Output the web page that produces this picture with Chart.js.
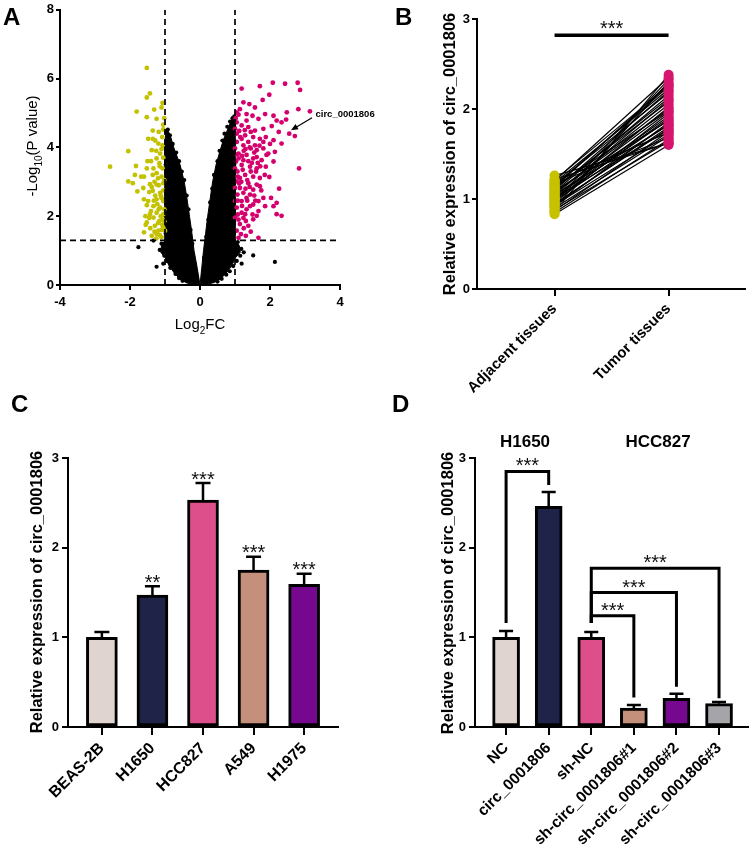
<!DOCTYPE html>
<html>
<head>
<meta charset="utf-8">
<script src="https://cdn.jsdelivr.net/npm/chart.js@4.4.1/dist/chart.umd.min.js"></script>
<style>
html,body{margin:0;padding:0;background:#fff;}
body{width:750px;height:854px;position:relative;overflow:hidden;font-family:"Liberation Sans",Arial,sans-serif;}
canvas{position:absolute;}
.panel{position:absolute;font-weight:bold;font-size:24px;line-height:24px;color:#000;}
.grp{position:absolute;font-weight:bold;font-size:17px;line-height:17px;color:#000;transform:translateX(-50%);white-space:nowrap;}
</style>
</head>
<body>
<canvas id="cA" width="375" height="340" style="left:0;top:0"></canvas>
<canvas id="cB" width="375" height="420" style="left:375px;top:0"></canvas>
<canvas id="cC" width="375" height="434" style="left:0;top:420px"></canvas>
<canvas id="cD" width="375" height="434" style="left:375px;top:420px"></canvas>
<div class="panel" style="left:3px;top:5px">A</div>
<div class="panel" style="left:395px;top:5px">B</div>
<div class="panel" style="left:11px;top:392px">C</div>
<div class="panel" style="left:392px;top:392px">D</div>
<div class="grp" style="left:525px;top:433px">H1650</div>
<div class="grp" style="left:658px;top:433px">HCC827</div>
<script>
// ================= DATA =================
// ---- Panel A: volcano plot (Log2FC, -Log10 P) ----
const fcCut = 1;
const pCut = 1.3;
const downRegulated = [[-1.52,6.31],[-1.43,5.57],[-1.52,5.45],[-1.07,5.29],[-1.31,5.10],[-1.81,5.04],[-1.10,5.16],[-1.52,4.88],[-1.24,4.83],[-1.05,4.66],[-1.35,4.49],[-1.05,4.52],[-1.48,4.25],[-1.35,4.25],[-1.19,4.11],[-1.38,3.92],[-2.05,3.89],[-1.14,3.82],[-1.24,3.68],[-1.05,3.70],[-1.83,3.46],[-2.57,3.44],[-1.52,3.39],[-1.33,3.39],[-1.86,3.20],[-1.60,3.15],[-1.24,3.25],[-1.10,3.15],[-2.05,3.01],[-1.92,2.96],[-1.43,2.93],[-1.24,2.92],[-1.05,2.96],[-1.62,2.82],[-1.35,2.74],[-1.14,2.68],[-1.79,2.72],[-1.24,2.49],[-1.48,2.44],[-1.05,2.44],[-1.60,2.49],[-1.33,2.29],[-1.14,2.25],[-1.52,2.32],[-1.24,2.10],[-1.43,2.06],[-1.05,2.06],[-1.33,1.96],[-1.52,1.82],[-1.16,1.86],[-1.29,1.72],[-1.05,1.67],[-1.60,1.53],[-1.24,1.48],[-1.10,1.39],[-1.38,1.43],[-1.19,1.58],[-1.00,1.58],[-1.07,1.91],[-1.10,2.53],[-1.07,3.39],[-1.16,3.54],[-1.07,4.06],[-1.02,2.20],[-1.12,2.00],[-1.20,1.80],[-1.08,1.75],[-1.28,2.60],[-1.18,2.90],[-1.02,3.05],[-1.30,3.00],[-1.15,3.45],[-1.25,3.90],[-1.40,3.60],[-1.45,2.70],[-1.40,2.15],[-1.56,2.00],[-1.30,1.55],[-1.15,1.45],[-1.02,1.85],[-1.22,2.35],[-1.12,2.60],[-1.35,3.20],[-1.50,3.60],[-1.68,3.15],[-1.08,4.30],[-1.55,1.75],[-1.45,1.95],[-1.02,4.85],[-1.18,4.45],[-1.28,4.20],[-1.10,3.95],[-1.20,3.10],[-1.05,2.75],[-1.32,2.45],[-1.18,2.20],[-1.10,1.60],[-1.42,1.65],[-1.25,1.35],[-1.38,2.85]];
const upRegulated = [[1.71,5.78],[2.08,5.88],[2.43,5.85],[2.79,5.88],[2.86,5.67],[1.19,5.71],[1.98,5.53],[3.14,5.05],[2.81,5.11],[2.48,5.02],[1.79,5.38],[1.24,5.31],[1.41,5.26],[1.57,5.16],[1.05,5.02],[1.14,5.11],[1.33,4.97],[1.50,4.92],[1.67,4.83],[1.86,4.97],[2.10,4.92],[2.33,4.73],[2.19,4.78],[2.46,4.81],[2.55,4.40],[2.71,4.33],[1.05,4.73],[1.19,4.64],[1.38,4.59],[1.57,4.49],[1.81,4.54],[2.05,4.62],[1.05,4.40],[1.29,4.35],[1.52,4.30],[1.71,4.25],[1.88,4.30],[2.10,4.21],[2.33,4.11],[1.05,4.16],[1.24,4.06],[1.45,3.97],[1.62,3.92],[1.81,3.97],[1.95,3.82],[2.14,3.87],[1.10,3.82],[1.33,3.78],[1.52,3.68],[1.76,3.63],[1.03,3.59],[1.19,3.49],[1.43,3.44],[1.62,3.39],[1.88,3.44],[2.10,3.59],[2.83,3.39],[1.07,3.30],[1.29,3.20],[1.52,3.15],[1.71,3.11],[1.98,3.14],[1.05,3.01],[1.38,2.96],[1.62,2.92],[1.14,2.82],[1.52,2.77],[1.71,2.87],[2.26,2.80],[1.07,2.63],[1.33,2.53],[1.81,2.53],[1.19,2.44],[1.67,2.44],[2.03,2.53],[1.52,2.34],[2.19,2.39],[1.86,2.29],[2.10,2.29],[1.05,2.25],[1.33,2.20],[1.67,2.15],[1.29,2.06],[1.62,2.01],[2.19,2.06],[2.33,2.01],[1.31,1.86],[1.52,1.91],[1.14,1.77],[1.38,1.72],[1.05,1.58],[1.17,1.48],[1.31,1.43],[1.67,1.37],[1.10,1.37],[1.00,3.97],[1.10,3.68],[1.24,3.63],[1.00,3.39],[1.14,3.11],[1.00,2.82],[1.24,2.68],[1.43,2.63],[1.00,2.44],[1.43,2.29],[1.00,1.96],[1.19,2.10],[1.38,4.16],[1.57,4.06],[1.19,4.25],[1.33,4.78],[1.00,4.54],[1.81,4.16],[1.90,3.78],[1.22,3.35],[1.35,3.05],[1.48,3.55],[1.12,4.48],[1.25,3.90],[1.60,3.30],[1.42,2.85],[1.08,2.05],[1.24,1.95],[1.55,2.60],[1.75,2.75],[1.12,2.95],[1.45,4.45],[1.70,4.05],[2.00,4.10],[1.65,3.55],[2.25,4.45],[1.02,4.85],[1.10,4.95],[1.28,4.50],[1.15,4.30],[1.42,4.00],[1.30,3.95],[1.08,3.15],[1.18,3.00],[1.30,2.80],[1.08,2.45],[1.20,2.30],[1.35,2.45],[1.10,1.90],[1.25,1.65],[1.45,1.55],[1.50,2.05],[1.58,2.45],[1.62,3.72],[1.72,3.45],[1.85,3.20],[1.45,3.30],[1.55,3.85],[1.20,3.75],[1.38,3.60],[1.05,3.80]];
const notSignificant = [[-0.15,0.6],[-0.22,1.2],[-0.27,1.6],[-0.33,2.2],[-0.38,2.6],[-0.45,3.05],[-0.52,3.3],[-0.6,3.6],[-0.68,3.85],[-0.78,4.1],[-0.86,4.35],[-0.92,4.52],[-0.97,4.45],[-0.98,4.0],[-0.98,3.5],[-0.98,3.0],[-0.98,2.5],[-0.98,2.0],[-0.98,1.5],[-1.1,1.2],[-1.15,1.02],[-1.02,0.85],[-0.95,0.7],[-0.85,0.5],[-0.7,0.32],[-0.6,0.2],[-0.5,0.12],[-0.4,0.22],[-0.3,0.3],[-0.82,3.95],[-0.75,3.75],[-0.9,4.15],
[0.12,0.8],[0.18,1.4],[0.24,1.9],[0.29,2.4],[0.35,2.8],[0.4,3.2],[0.5,3.6],[0.56,3.9],[0.64,4.2],[0.7,4.4],[0.78,4.6],[0.86,4.75],[0.93,4.85],[0.98,4.9],[0.98,4.6],[0.98,4.0],[0.98,3.5],[0.98,3.0],[0.98,2.5],[0.98,2.0],[0.98,1.6],[1.08,1.25],[1.18,1.05],[1.25,0.95],[1.15,0.85],[1.05,0.7],[0.95,0.55],[0.85,0.4],[0.75,0.3],[0.62,0.18],[0.5,0.1],[0.35,0.25],
[-1.76,1.1],[-1.24,0.53],[1.52,0.86],[2.14,0.67],[1.19,0.62],[1.07,1.1],[-1.05,0.62],[-1.33,1.29]];
// outline of the dense non-significant clouds
const nsCloudLeft = [[0,0],[-0.08,0.5],[-0.17,1.0],[-0.23,1.5],[-0.3,2.0],[-0.37,2.5],[-0.45,3.0],[-0.57,3.5],[-0.66,3.75],[-0.75,4.0],[-0.85,4.35],[-0.92,4.5],[-0.97,4.45],[-1.0,4.2],[-1.0,1.3],[-1.1,1.15],[-1.12,0.95],[-1.0,0.8],[-0.88,0.55],[-0.72,0.33],[-0.55,0.15],[-0.38,0.06],[-0.2,0.02],[0,0]];
const nsCloudRight = [[0,0],[0.05,0.5],[0.1,1.0],[0.16,1.5],[0.22,2.0],[0.29,2.5],[0.36,3.0],[0.46,3.5],[0.6,4.0],[0.68,4.25],[0.78,4.5],[0.88,4.75],[0.95,4.87],[1.0,4.87],[1.0,1.3],[1.12,1.15],[1.15,0.95],[1.02,0.8],[0.9,0.55],[0.75,0.35],[0.58,0.17],[0.4,0.07],[0.2,0.02],[0,0]];
const labelGene = 'circ_0001806';
const labelTextAt = [3.3, 4.96];
const labelArrowFrom = [3.2, 4.86];
const labelArrowTo = [2.6, 4.5];

// ---- Panel B: paired tissues ----
const tissueLabels = ['Adjacent tissues', 'Tumor tissues'];
const adjacentExpr = [0.83,0.85,0.86,0.87,0.88,0.90,0.91,0.92,0.93,0.94,0.95,0.96,0.97,0.98,0.99,1.00,1.00,1.01,1.02,1.03,1.04,1.05,1.06,1.07,1.08,1.09,1.10,1.11,1.12,1.13,1.14,1.15,1.16,1.17,1.18,1.19,1.20,1.21,1.22,1.26];
const tumorExpr = [1.60,1.66,2.38,1.75,1.64,1.70,2.30,1.85,1.72,1.80,1.78,1.95,2.33,1.83,1.90,1.88,2.02,1.77,1.92,1.97,2.10,1.82,2.05,2.00,2.15,1.87,2.20,2.12,2.08,2.28,1.98,2.25,2.18,1.68,2.22,1.74,2.35,2.26,1.62,1.62];
const tissueSigY = 2.82;
const tissueSig = '***';

// ---- Panel C: cell lines ----
const cellLines = ['BEAS-2B','H1650','HCC827','A549','H1975'];
const cellMeans = [1.00, 1.47, 2.53, 1.75, 1.59];
const cellSD = [0.06, 0.10, 0.19, 0.15, 0.12];
const cellSig = ['', '**', '***', '***', '***'];

// ---- Panel D: overexpression / knockdown ----
const groupsD = ['NC','circ_0001806','sh-NC','sh-circ_0001806#1','sh-circ_0001806#2','sh-circ_0001806#3'];
const meansD = [1.00, 2.46, 1.00, 0.21, 0.32, 0.26];
const sdD = [0.07, 0.16, 0.06, 0.035, 0.05, 0.02];
// brackets: [fromIndex, toIndex, barY, fromEndY, toEndY, label]
const bracketsD = [[0,1,2.85,1.16,2.70,'***'],[2,3,1.24,1.16,0.33,'***'],[2,4,1.50,1.16,0.45,'***'],[2,5,1.77,1.16,0.32,'***']];

const yTitle = 'Relative expression of circ_0001806';

// ================= STYLE =================
const FAM = '"Liberation Sans", Arial, sans-serif';
Chart.defaults.font.family = FAM;
Chart.defaults.color = '#000';
const barColors = ['#e0d4d0','#1f2348','#dc4f8b','#c4907b','#76078f','#a5a5a9'];

function axis(o){
  return {
    type:'linear', min:o.min, max:o.max, offset:false,
    border:{display:true,color:'#000',width:2},
    grid:{display:true,drawOnChartArea:false,drawTicks:true,tickLength:o.tl,color:'#000',lineWidth:2,offset:false},
    ticks:Object.assign({color:'#000',padding:o.pad,font:{family:FAM,size:o.fs,weight:'bold'}}, o.ticks||{}),
    afterFit:o.afterFit,
    afterBuildTicks:o.afterBuildTicks
  };
}
function catAxis(labels, o){
  return axis(Object.assign({}, o, {
    afterBuildTicks: s => { s.ticks = labels.map((_, i) => ({value: i})); },
    ticks:{autoSkip:false,maxRotation:45,minRotation:45,callback:v => labels[v]}
  }));
}
const common = {responsive:false, animation:false, devicePixelRatio:1, events:[],
  plugins:{legend:{display:false}, tooltip:{enabled:false}}};
const xy = arr => arr.map(([x,y]) => ({x, y}));

function vTitle(ctx, text, cx, cy, px, bold){
  ctx.save(); ctx.translate(cx, cy); ctx.rotate(-Math.PI/2);
  ctx.font = (bold?'bold ':'') + px + 'px ' + FAM; ctx.fillStyle = '#000';
  ctx.textAlign = 'center'; ctx.textBaseline = 'middle';
  ctx.fillText(text, 0, 0); ctx.restore();
}
function subText(ctx, parts, cx, cy, rot, size){
  ctx.save(); ctx.translate(cx, cy); if (rot) ctx.rotate(rot);
  ctx.fillStyle = '#000'; ctx.textAlign = 'left'; ctx.textBaseline = 'alphabetic';
  const sub = Math.round(size*0.68);
  let total = 0;
  parts.forEach(([t,s]) => { ctx.font = (s?sub:size)+'px '+FAM; total += ctx.measureText(t).width; });
  let x = -total/2; const base = size*0.36;
  parts.forEach(([t,s]) => { ctx.font = (s?sub:size)+'px '+FAM; ctx.fillText(t, x, base + (s?size*0.3:0)); x += ctx.measureText(t).width; });
  ctx.restore();
}
function stars(ctx, text, px, baseY){
  ctx.save(); ctx.font = '20px ' + FAM; ctx.fillStyle = '#111';
  ctx.textAlign = 'center'; ctx.textBaseline = 'alphabetic';
  ctx.fillText(text, px, baseY); ctx.restore();
}
function errorBars(chart, means, sds, cap){
  const {ctx, scales:{x, y}} = chart;
  ctx.save(); ctx.strokeStyle = '#000'; ctx.lineWidth = 2.5; ctx.lineCap = 'butt';
  means.forEach((m, i) => {
    const px = x.getPixelForValue(i), y0 = y.getPixelForValue(m), y1 = y.getPixelForValue(m + sds[i]);
    ctx.beginPath(); ctx.moveTo(px, y0); ctx.lineTo(px, y1);
    ctx.moveTo(px - cap/2, y1); ctx.lineTo(px + cap/2, y1); ctx.stroke();
  });
  ctx.restore();
}

// ================= PANEL A =================
new Chart('cA', {
  type:'scatter',
  data:{datasets:[
    {data:xy(nsCloudLeft), showLine:true, fill:'shape', backgroundColor:'#000', borderColor:'#000', borderWidth:1, pointRadius:0, tension:0, order:6},
    {data:xy(nsCloudRight), showLine:true, fill:'shape', backgroundColor:'#000', borderColor:'#000', borderWidth:1, pointRadius:0, tension:0, order:6},
    {data:xy(notSignificant), backgroundColor:'#000', pointRadius:2.1, pointBorderWidth:0, order:5},
    {data:xy(downRegulated), backgroundColor:'#c3c100', pointRadius:2.4, pointBorderWidth:0, order:4},
    {data:xy(upRegulated), backgroundColor:'#d3006d', pointRadius:2.4, pointBorderWidth:0, order:3},
    {data:[{x:-fcCut,y:0},{x:-fcCut,y:8}], showLine:true, borderColor:'#000', borderWidth:1.7, borderDash:[6,4], pointRadius:0, order:1},
    {data:[{x:fcCut,y:0},{x:fcCut,y:8}], showLine:true, borderColor:'#000', borderWidth:1.7, borderDash:[6,4], pointRadius:0, order:1},
    {data:[{x:-4,y:pCut},{x:4,y:pCut}], showLine:true, borderColor:'#000', borderWidth:1.7, borderDash:[6,4], pointRadius:0, order:1}
  ]},
  options:Object.assign({}, common, {
    layout:{padding:{left:0, right:35, top:6, bottom:0}},
    scales:{
      x:axis({min:-4,max:4,tl:5,pad:5,fs:13,ticks:{stepSize:2},afterFit:s=>{s.height=55;}}),
      y:axis({min:0,max:8,tl:4,pad:2,fs:13,ticks:{stepSize:2},afterFit:s=>{s.width=60;}})
    }
  }),
  plugins:[{id:'annA', afterDraw(chart){
    const {ctx, scales:{x, y}} = chart;
    subText(ctx, [['-Log',false],['10',true],['(P value)',false]], 32, 146, -Math.PI/2, 15);
    subText(ctx, [['Log',false],['2',true],['FC',false]], 200, 324, 0, 15);
    const fx = x.getPixelForValue(labelArrowFrom[0]), fy = y.getPixelForValue(labelArrowFrom[1]);
    const tx = x.getPixelForValue(labelArrowTo[0]), ty = y.getPixelForValue(labelArrowTo[1]);
    ctx.save(); ctx.strokeStyle = '#000'; ctx.fillStyle = '#000'; ctx.lineWidth = 1.2;
    const ang = Math.atan2(ty - fy, tx - fx);
    ctx.beginPath(); ctx.moveTo(fx, fy); ctx.lineTo(tx - 5*Math.cos(ang), ty - 5*Math.sin(ang)); ctx.stroke();
    ctx.beginPath(); ctx.moveTo(tx, ty);
    ctx.lineTo(tx - 7*Math.cos(ang) + 3*Math.sin(ang), ty - 7*Math.sin(ang) - 3*Math.cos(ang));
    ctx.lineTo(tx - 7*Math.cos(ang) - 3*Math.sin(ang), ty - 7*Math.sin(ang) + 3*Math.cos(ang));
    ctx.closePath(); ctx.fill();
    ctx.font = 'bold 9.5px ' + FAM; ctx.textAlign = 'left'; ctx.textBaseline = 'middle';
    ctx.fillText(labelGene, x.getPixelForValue(labelTextAt[0]), y.getPixelForValue(labelTextAt[1]));
    ctx.restore();
  }}]
});

// ================= PANEL B =================
const pairSets = adjacentExpr.map((a, i) => ({
  type:'line', data:[{x:0,y:a},{x:1,y:tumorExpr[i]}], borderColor:'#000', borderWidth:1.2, pointRadius:0, order:3
}));
new Chart('cB', {
  type:'scatter',
  data:{datasets:[
    ...pairSets,
    {data:adjacentExpr.map(v => ({x:0,y:v})), backgroundColor:'#c6c200', pointRadius:5, pointBorderWidth:0, order:1},
    {data:tumorExpr.map(v => ({x:1,y:v})), backgroundColor:'#d5156e', pointRadius:5, pointBorderWidth:0, order:1},
    {type:'line', data:[{x:0,y:tissueSigY},{x:1,y:tissueSigY}], borderColor:'#000', borderWidth:3.5, pointRadius:0, order:0}
  ]},
  options:Object.assign({}, common, {
    layout:{padding:{left:0, right:3, top:19, bottom:0}},
    scales:{
      x:catAxis(tissueLabels, {min:-0.68,max:1.67,tl:7,pad:4,fs:15,afterFit:s=>{s.height=131;}}),
      y:axis({min:0,max:3,tl:5,pad:2,fs:13,ticks:{stepSize:1},afterFit:s=>{s.width=102;}})
    }
  }),
  plugins:[{id:'annB', afterDraw(chart){
    const {ctx, scales:{x, y}} = chart;
    vTitle(ctx, yTitle, 75, 154, 16.5, true);
    stars(ctx, tissueSig, x.getPixelForValue(0.5), y.getPixelForValue(tissueSigY) - 0.5);
  }}]
});

// ================= PANEL C =================
new Chart('cC', {
  type:'bar',
  data:{datasets:[{
    data:cellMeans.map((m, i) => ({x:i, y:m})),
    backgroundColor:barColors.slice(0, cellLines.length), borderColor:'#000', borderWidth:3, borderSkipped:false, barThickness:31
  }]},
  options:Object.assign({}, common, {
    layout:{padding:{left:0, right:37, top:38, bottom:0}},
    scales:{
      x:catAxis(cellLines, {min:-0.67,max:4.67,tl:8,pad:4,fs:16,afterFit:s=>{s.height=127;}}),
      y:axis({min:0,max:3,tl:6,pad:3,fs:13,ticks:{stepSize:1},afterFit:s=>{s.width=68;}})
    }
  }),
  plugins:[{id:'annC', afterDatasetsDraw(chart){
    errorBars(chart, cellMeans, cellSD, 15);
  }, afterDraw(chart){
    const {ctx, scales:{x, y}} = chart;
    vTitle(ctx, yTitle, 37.5, 172, 16.5, true);
    cellSig.forEach((s, i) => { if (s) stars(ctx, s, x.getPixelForValue(i), y.getPixelForValue(cellMeans[i] + cellSD[i]) + 2.5); });
  }}]
});

// ================= PANEL D =================
const bracketSets = bracketsD.map(([a, b, top, ya, yb]) => ({
  type:'line', data:[{x:a,y:ya},{x:a,y:top},{x:b,y:top},{x:b,y:yb}], borderColor:'#000', borderWidth:3,
  pointRadius:0, tension:0, order:0
}));
new Chart('cD', {
  type:'bar',
  data:{datasets:[{
    data:meansD.map((m, i) => ({x:i, y:m})),
    backgroundColor:barColors, borderColor:'#000', borderWidth:3, borderSkipped:false, barThickness:27, order:1
  }, ...bracketSets]},
  options:Object.assign({}, common, {
    layout:{padding:{left:0, right:2, top:38, bottom:0}},
    scales:{
      x:catAxis(groupsD, {min:-0.73,max:5.68,tl:8,pad:4,fs:15.5,afterFit:s=>{s.height=127;}}),
      y:axis({min:0,max:3,tl:6,pad:3,fs:13,ticks:{stepSize:1},afterFit:s=>{s.width=100;}})
    }
  }),
  plugins:[{id:'annD', afterDatasetsDraw(chart){
    errorBars(chart, meansD, sdD, 14);
  }, afterDraw(chart){
    const {ctx, scales:{x, y}} = chart;
    vTitle(ctx, yTitle, 73, 173, 16.5, true);
    bracketsD.forEach(([a, b, top, , , s]) => stars(ctx, s, x.getPixelForValue((a + b)/2), y.getPixelForValue(top) + 1));
  }}]
});
</script>
</body>
</html>
